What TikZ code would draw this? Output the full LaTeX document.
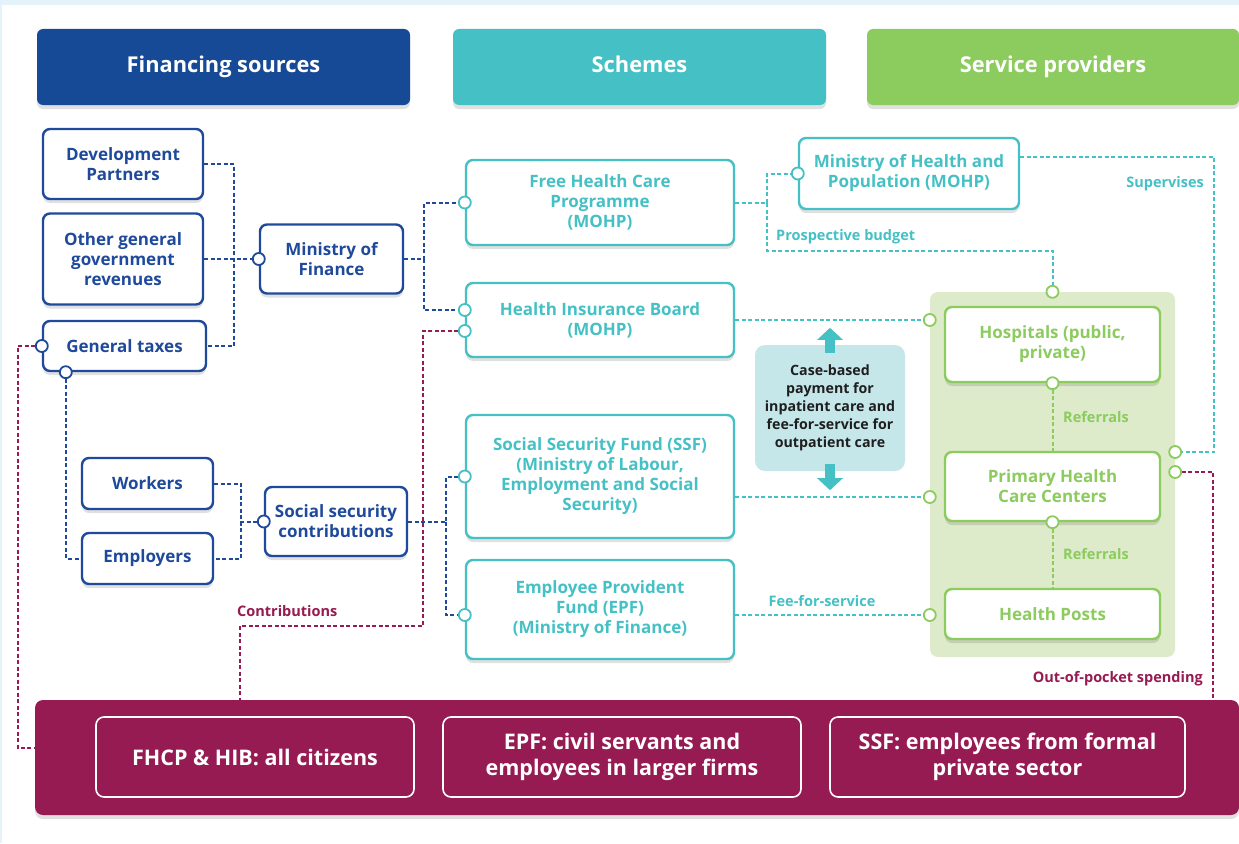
\documentclass[tikz,border=0pt]{standalone}
\usepackage{fontspec}
\setmainfont{Open Sans}
\usetikzlibrary{shadows,calc,arrows.meta}
\definecolor{fsblue}{HTML}{174A96}
\definecolor{dblue}{HTML}{1F4A9C}
\definecolor{teal}{HTML}{45C1C6}
\definecolor{grn}{HTML}{8CCB5E}
\definecolor{grnfill}{HTML}{DEEBCB}
\definecolor{maroon}{HTML}{961B52}
\definecolor{casefill}{HTML}{C6E7EA}
\definecolor{bglight}{HTML}{E4F3FA}
\definecolor{txtdark}{HTML}{1E1E1E}
\tikzset{
  shad/.style={drop shadow={shadow xshift=0pt, shadow yshift=-4pt, opacity=0.12, fill=black}},
  hdr/.style={fill=#1, rounded corners=6pt, minimum width=373pt, minimum height=76pt, text=white,
     font=\bfseries\fontsize{21.8}{26}\selectfont, text height=16pt, text depth=5pt, shad},
  box/.style={draw=#1, text=#1, fill=white, line width=2.4pt, rounded corners=7pt, align=center,
     inner sep=0pt, font=\bfseries\fontsize{17}{20}\selectfont, shad},
  wbox/.style={draw=white, text=white, line width=1.6pt, rounded corners=8pt, align=center,
     inner sep=0pt, font=\bfseries\fontsize{21.5}{26}\selectfont},
  ln/.style={draw=#1, line width=2pt, dash pattern=on 4pt off 2.5pt},
  dot/.style={circle, draw=#1, fill=white, line width=1.8pt, minimum size=12pt, inner sep=0pt},
  lbl/.style={text=#1, font=\bfseries\fontsize{14.5}{17}\selectfont, inner sep=0pt},
  arr/.style={draw=teal, line width=10pt, -{Triangle[width=25pt,length=12pt]}},
}
\begin{document}
\begin{tikzpicture}[x=1pt,y=-1pt]
\useasboundingbox (0,0) rectangle (1239,843);
\fill[bglight] (0,0) rectangle (1239,843);
\fill[white] (2,5) rectangle (1239,843);

% headers
\node[hdr=fsblue] (h1) at (223.5,67) {Financing sources};
\node[hdr=teal] (h2) at (639.5,67) {Schemes};
\node[hdr=grn, minimum width=372pt] (h3) at (1053,67) {Service providers};

% green region
\fill[grnfill, rounded corners=8pt] (930,292) rectangle (1175,657);
\node[inner sep=0pt, minimum width=245pt, minimum height=365pt] (region) at (1052.5,474.5) {};

% financing boxes
\node[box=dblue, minimum width=160pt, minimum height=70pt] (dev) at (123,164) {Development\\Partners};
\node[box=dblue, minimum width=160pt, minimum height=91pt] (other) at (123,259) {Other general\\government\\revenues};
\node[box=dblue, minimum width=163pt, minimum height=50pt] (tax) at (124.5,346) {General taxes};
\node[box=dblue, minimum width=143pt, minimum height=69pt] (mof) at (331.5,259) {Ministry of\\Finance};
\node[box=dblue, minimum width=131pt, minimum height=51pt] (workers) at (147.5,483.5) {Workers};
\node[box=dblue, minimum width=131pt, minimum height=51pt] (employers) at (147.5,558.5) {Employers};
\node[box=dblue, minimum width=142pt, minimum height=69pt] (ssc) at (336,521.5) {Social security\\contributions};

% schemes
\node[box=teal, minimum width=268pt, minimum height=85pt] (fhcp) at (600,202.5) {Free Health Care\\Programme\\(MOHP)};
\node[box=teal, minimum width=268pt, minimum height=74pt] (hib) at (600,320) {Health Insurance Board\\(MOHP)};
\node[box=teal, minimum width=268pt, minimum height=123pt] (ssf) at (600,476.5) {Social Security Fund (SSF)\\(Ministry of Labour,\\Employment and Social\\Security)};
\node[box=teal, minimum width=268pt, minimum height=99pt] (epf) at (600,609.5) {Employee Provident\\Fund (EPF)\\(Ministry of Finance)};
\node[box=teal, minimum width=220pt, minimum height=71pt] (mohp) at (909,173.5) {Ministry of Health and\\Population (MOHP)};

% providers
\node[box=grn, minimum width=215pt, minimum height=75pt] (hosp) at (1052.5,344.5) {Hospitals (public,\\private)};
\node[box=grn, minimum width=215pt, minimum height=69pt] (phc) at (1052.5,486.5) {Primary Health\\Care Centers};
\node[box=grn, minimum width=215pt, minimum height=50pt] (hp) at (1052.5,614) {Health Posts};

% case box
\node[fill=casefill, rounded corners=10pt, minimum width=150pt, minimum height=126pt, align=center,
  inner sep=0pt, text=txtdark, font=\bfseries\fontsize{14.2}{18}\selectfont] (case) at (830,408)
  {Case-based\\payment for\\inpatient care and\\fee-for-service for\\outpatient care};
\draw[arr] ($(case.north)+(0,8)$) coordinate (au1) -- ($(case.north)+(0,-17)$) coordinate (au2);
\draw[arr] ($(case.south)+(0,-7)$) coordinate (ad1) -- ($(case.south)+(0,19)$) coordinate (ad2);

% bottom bar
\node[fill=maroon, rounded corners=8pt, minimum width=1204pt, minimum height=115pt, inner sep=0pt, shad] (bar) at (637,757.5) {};
\node[wbox, minimum width=318pt, minimum height=80pt] (b1) at (255,757) {FHCP \& HIB: all citizens};
\node[wbox, minimum width=358pt, minimum height=80pt] (b2) at (622,757) {EPF: civil servants and\\employees in larger firms};
\node[wbox, minimum width=355pt, minimum height=80pt] (b3) at (1007.5,757) {SSF: employees from formal\\private sector};

% named points
\coordinate (taxb) at ($(tax.south west)+(24,0)$);
\coordinate (hibt) at ($(hib.west)+(0,-10)$);
\coordinate (hibm) at ($(hib.west)+(0,11)$);
\coordinate (epfi) at ($(epf.west)+(0,5.5)$);
\coordinate (epfo) at ($(epf.east)+(0,5.5)$);
\coordinate (ssfo) at ($(ssf.east)+(0,20.5)$);
\coordinate (mo) at ($(mohp.east)+(0,-16.5)$);
\coordinate (sup) at ($(region.east)+(0,-22.5)$);
\coordinate (oop) at ($(region.east)+(0,-2.5)$);
\coordinate (barl) at ($(bar.west)+(0,-9.5)$);
\coordinate (cbend) at (240,700);

% dark blue connectors
\draw[ln=dblue] (dev.east) -- ++(30,0) |- (tax.east);
\draw[ln=dblue] (other.east) -- (mof.west);
\draw[ln=dblue] (mof.east) -- ++(20,0) coordinate (mj) |- (fhcp.west);
\draw[ln=dblue] (mj) |- (hibt);
\draw[ln=dblue] (taxb) |- (employers.west);
\draw[ln=dblue] (workers.east) -- ++(27,0) |- (employers.east);
\draw[ln=dblue] (ssc.west -| 240,0) -- (ssc.west);
\draw[ln=dblue] (ssc.east) -- ++(38,0) coordinate (sj) |- (ssf.west);
\draw[ln=dblue] (sj) |- (epfi);

% maroon connectors
\draw[ln=maroon] (tax.west) -- ++(-24,0) |- (barl);
\draw[ln=maroon] (hibm) -- ++(-42,0) -- ++(0,295) -| (cbend);
\draw[ln=maroon] (oop) -- ++(38,0) coordinate (oo2) -- (oo2 |- bar.north);

% teal connectors
\draw[ln=teal] (fhcp.east) -- ++(32,0) coordinate (fj) -- ++(0,48) -| (region.north);
\draw[ln=teal] (fj) |- (mohp.west);
\draw[ln=teal] (hib.east) -- (hib.east -| region.west);
\draw[ln=teal] (ssfo) -- (ssfo -| region.west);
\draw[ln=teal] (epfo) -- (epfo -| region.west);
\draw[ln=teal] (mo) -- ++(194,0) |- (sup);

% green connectors
\draw[ln=grn] (hosp.south) -- (phc.north);
\draw[ln=grn] (phc.south) -- (hp.north);

% dots
\node[dot=dblue] (d1) at (mof.west) {};
\node[dot=dblue] (d2) at (taxb) {};
\node[dot=dblue] (d3) at (tax.west) {};
\node[dot=dblue] (d4) at (ssc.west) {};
\node[dot=teal] (d5) at (fhcp.west) {};
\node[dot=teal] (d6) at (hibt) {};
\node[dot=teal] (d7) at (hibm) {};
\node[dot=teal] (d8) at (ssf.west) {};
\node[dot=teal] (d9) at (epfi) {};
\node[dot=teal] (d10) at (mohp.west) {};
\node[dot=grn] (d11) at (region.north) {};
\node[dot=grn] (d12) at (hib.east -| region.west) {};
\node[dot=grn] (d13) at (ssfo -| region.west) {};
\node[dot=grn] (d14) at (epfo -| region.west) {};
\node[dot=grn] (d15) at (hosp.south) {};
\node[dot=grn] (d16) at (phc.south) {};
\node[dot=grn] (d17) at (sup) {};
\node[dot=grn] (d18) at (oop) {};

% labels
\node[lbl=maroon, anchor=west] (l1) at (237,611) {Contributions};
\node[lbl=teal, anchor=west] (l2) at (776,237) {Prospective budget};
\node[lbl=teal, anchor=east] (l3) at (1204,184) {Supervises};
\node[lbl=grn] (l4) at (1096,417) {Referrals};
\node[lbl=grn] (l5) at (1096,554) {Referrals};
\node[lbl=teal] (l6) at (822,601) {Fee-for-service};
\node[lbl=maroon, anchor=east] (l7) at (1203,679) {Out-of-pocket spending};
\end{tikzpicture}
\end{document}
